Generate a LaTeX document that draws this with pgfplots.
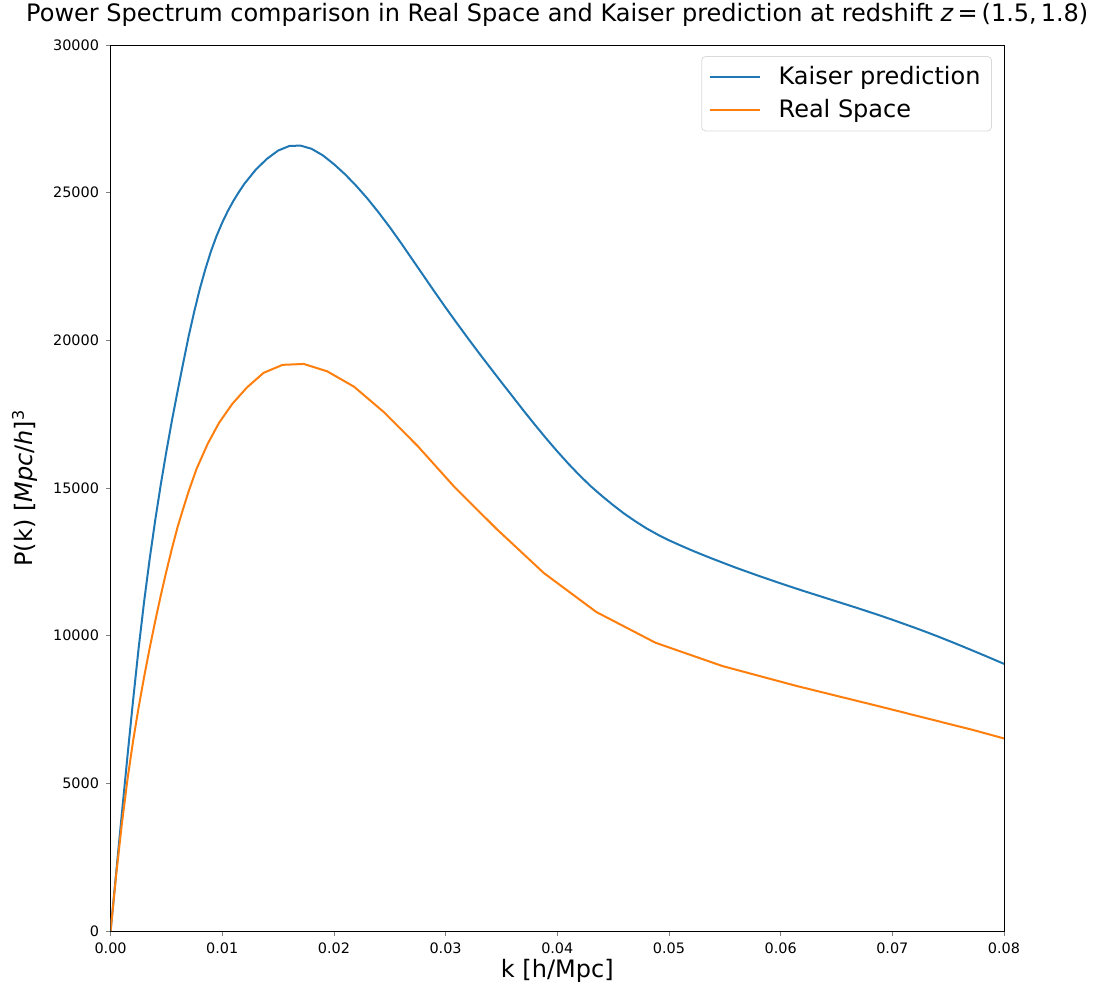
\documentclass[border=0pt]{standalone}
\usepackage{pgfplots}
\pgfplotsset{compat=1.18}
\usepackage{fontspec}
\setmainfont{DejaVu Sans}
\definecolor{mplblue}{HTML}{1F77B4}
\definecolor{mplorange}{HTML}{FF7F0E}
\begin{document}
\begin{tikzpicture}
\path[use as bounding box] (-55.3pt,-28pt) rectangle (491.7pt,465.5pt);
\begin{axis}[
  at={(0,0)}, anchor=south west,
  scale only axis, width=446.7pt, height=443pt,
  xmin=0, xmax=0.08, ymin=0, ymax=30000,
  xtick={0,0.01,...,0.08},
  ytick={0,5000,...,30000},
  xticklabel style={/pgf/number format/.cd, fixed, fixed zerofill, precision=2},
  yticklabel style={/pgf/number format/.cd, fixed, 1000 sep={}},
  /pgf/number format/assume math mode=true,
  scaled x ticks=false, scaled y ticks=false,
  tick align=outside, tick pos=left,
  major tick length=2.3pt,
  tick label style={font=\fontsize{7.2}{8}\selectfont},
  title={Power Spectrum comparison in Real Space and Kaiser prediction at redshift \textit{z}\,=\,(1.5,\,1.8)},
  title style={font=\fontsize{12}{14}\selectfont, at={(axis description cs:0.5,1)}, anchor=base, yshift=6pt, inner sep=0pt},
  xlabel={k [h/Mpc]},
  xlabel style={font=\fontsize{12}{14}\selectfont, at={(axis description cs:0.5,-0.0445)}, anchor=center},
  ylabel={P(k) [\textit{Mpc}/\textit{h}]\textsuperscript{3}},
  ylabel style={font=\fontsize{12}{14}\selectfont, at={(axis description cs:-0.096,0.5)}, anchor=center},
  legend style={at={(axis description cs:0.9865,0.9875)}, anchor=north east, draw=black!15, rounded corners=2pt,
    font=\fontsize{12}{14}\selectfont, row sep=2pt, inner xsep=3.5pt, inner ysep=3pt,
    /tikz/every odd column/.append style={column sep=7pt}},
  legend cell align=left,
  legend image code/.code={\draw[#1] (0pt,0pt) -- (25pt,0pt);},
]
\addplot[mplblue, line width=1pt] coordinates {
(0,0) (0.0005,1980) (0.001,3940) (0.0015,5880) (0.002,7760) (0.0025,9540) (0.003,11150)
(0.0035,12600) (0.004,13920) (0.0045,15130) (0.005,16250) (0.0055,17300) (0.006,18280)
(0.0065,19230) (0.007,20155) (0.0075,20990) (0.008,21755) (0.0085,22430) (0.009,23030)
(0.0095,23545) (0.010,23990) (0.0105,24380) (0.011,24725) (0.0115,25030) (0.012,25310)
(0.013,25780) (0.014,26145) (0.015,26425) (0.016,26580) (0.017,26595) (0.018,26485)
(0.019,26265) (0.020,25965)
(0.021,25620) (0.022,25230) (0.023,24800) (0.024,24330) (0.025,23830) (0.026,23300)
(0.027,22750) (0.028,22200) (0.029,21650) (0.030,21110) (0.031,20585) (0.032,20070)
(0.033,19565) (0.034,19070) (0.035,18580) (0.036,18097) (0.037,17610) (0.038,17140)
(0.039,16680) (0.040,16240) (0.041,15820) (0.042,15425) (0.043,15060) (0.044,14730)
(0.045,14420) (0.046,14130) (0.047,13870) (0.048,13630) (0.049,13420) (0.050,13230)
(0.051,13060) (0.052,12895) (0.053,12740) (0.054,12590) (0.055,12445) (0.056,12300)
(0.057,12165) (0.058,12030) (0.059,11900) (0.060,11770) (0.061,11645) (0.062,11520)
(0.063,11400) (0.064,11280) (0.065,11160) (0.066,11040) (0.067,10920) (0.068,10795)
(0.069,10670) (0.070,10540) (0.071,10405) (0.072,10270) (0.073,10130) (0.074,9985)
(0.075,9835) (0.076,9682) (0.077,9526) (0.078,9368) (0.079,9208) (0.080,9045)
};
\addlegendentry{Kaiser prediction}
\addplot[mplorange, line width=1pt] coordinates {
(0,0) (0.0005,1900) (0.0010,3600) (0.0015,5100) (0.0020,6400) (0.0025,7550) (0.0030,8600)
(0.0035,9580) (0.0040,10500) (0.0045,11370) (0.0050,12190) (0.0055,12960) (0.0060,13680)
(0.0065,14300) (0.0070,14900) (0.0077,15650) (0.0087,16500) (0.0097,17200) (0.0109,17850)
(0.0122,18400) (0.0137,18900) (0.0154,19170) (0.0173,19200) (0.0194,18950) (0.0218,18430)
(0.0245,17560) (0.0275,16420) (0.0308,15030) (0.0346,13600) (0.0388,12120) (0.0435,10800)
(0.0488,9760) (0.0548,8970) (0.0614,8300) (0.0689,7600) (0.0773,6800) (0.0800,6520)
};
\addlegendentry{Real Space}
\end{axis}
\end{tikzpicture}
\end{document}
